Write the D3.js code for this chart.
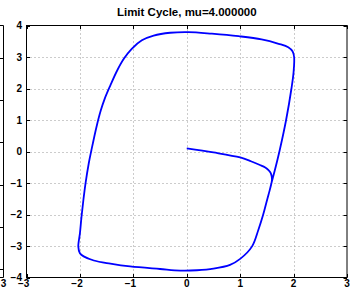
<!DOCTYPE html>
<html>
<head>
<meta charset="utf-8">
<script src="https://cdn.jsdelivr.net/npm/d3@7"></script>
<style>
  body { margin: 0; background: #fff; }
  svg { display: block; }
  text { font-family: "Liberation Sans", Arial, sans-serif; font-weight: bold; fill: #000; }
</style>
</head>
<body>
<svg id="chart"></svg>
<script>
const titleText = "Limit Cycle, mu=4.000000"
const xTicks = [-3, -2, -1, 0, 1, 2, 3]
const yTicks = [-4, -3, -2, -1, 0, 1, 2, 3, 4]
// right edge of the neighbouring subplot, cut off at the left border
const sideTicks = [-3, -2, -1, 0, 1, 2]

// trajectory: start near the origin, join the cycle, one full turn
const trajX = [0, 0.5, 1.0, 1.2, 1.37, 1.47, 1.53, 1.57, 1.59, 1.595,
  1.585, 1.55, 1.51, 1.43, 1.34, 1.22, 1.0, 0.81, 0.5, 0.19, -0.12, -0.5, -1.06, -1.43,
  -1.74, -1.93, -2.0, -2.03, -2.0, -1.97, -1.935, -1.895, -1.835, -1.785, -1.69, -1.61, -1.535, -1.43,
  -1.3, -1.175, -1.03, -0.84, -0.62, -0.31, 0.03, 0.47, 0.97, 1.4, 1.72, 1.9, 1.98, 2.01, 2.0,
  1.96, 1.86, 1.74, 1.65, 1.585, 1.55]
const trajY = [0.1, -0.03, -0.19, -0.31, -0.43, -0.51, -0.59, -0.68, -0.79, -0.9,
  -1.01, -1.25, -1.5, -2.01, -2.49, -3.02, -3.41, -3.6, -3.72, -3.77, -3.78, -3.73, -3.65, -3.56,
  -3.46, -3.33, -3.23, -3.02, -2.6, -2.07, -1.54, -1.01, -0.38, 0.04, 0.78, 1.3, 1.68, 2.1,
  2.58, 2.95, 3.26, 3.53, 3.68, 3.77, 3.79, 3.74, 3.66, 3.56, 3.42, 3.31, 3.18, 3.0, 2.52,
  2.0, 1.0, 0.04, -0.59, -1.01, -1.25]

const width = 350, height = 294

const svg = d3.select("#chart")
  .attr("width", width)
  .attr("height", height)

const x = d3.scaleLinear().domain([-3, 3]).range([26.5, 347])
const y = d3.scaleLinear().domain([-4, 4]).range([277.5, 25.5])
const ySide = d3.scaleLinear().domain([-3.21, 2.78]).range([277.5, 25.5])

const fmt = d => d < 0 ? "\u2212" + Math.abs(d) : String(d)
const tickLen = 3.5

// neighbouring subplot edge
svg.append("path")
  .attr("d", `M0,${y.range()[1]}H3.5V${y.range()[0]}H0`)
  .attr("fill", "none").attr("stroke", "#000")
svg.append("g").selectAll("line").data(sideTicks).join("line")
  .attr("x1", 0).attr("x2", 3.5)
  .attr("y1", d => Math.round(ySide(d)) + 0.5).attr("y2", d => Math.round(ySide(d)) + 0.5)
  .attr("stroke", "#000")
svg.append("text")
  .attr("x", 6.3).attr("y", 286.5)
  .attr("text-anchor", "end")
  .style("font-size", "10px")
  .text("3")

// grid
const grid = svg.append("g")
  .attr("stroke", "#999").attr("stroke-dasharray", "1,3")
grid.selectAll(".gx").data(xTicks.slice(1, -1)).join("line")
  .attr("class", "gx")
  .attr("x1", d => Math.round(x(d)) + 0.5).attr("x2", d => Math.round(x(d)) + 0.5)
  .attr("y1", y(4)).attr("y2", y(-4))
grid.selectAll(".gy").data(yTicks.slice(1, -1)).join("line")
  .attr("class", "gy")
  .attr("y1", d => Math.round(y(d)) + 0.5).attr("y2", d => Math.round(y(d)) + 0.5)
  .attr("x1", x(-3)).attr("x2", x(3))

// trajectory
const line = d3.line()
  .x(d => x(d[0]))
  .y(d => y(d[1]))
  .curve(d3.curveCatmullRom.alpha(0.5))

svg.append("path")
  .datum(d3.zip(trajX, trajY))
  .attr("d", line)
  .attr("fill", "none")
  .attr("stroke", "#0000ff")
  .attr("stroke-width", 1.8)

// box and inward ticks
svg.append("rect")
  .attr("x", x(-3)).attr("y", y(4))
  .attr("width", x(3) - x(-3)).attr("height", y(-4) - y(4))
  .attr("fill", "none").attr("stroke", "#000")

const ticks = svg.append("g").attr("stroke", "#000")
xTicks.forEach(d => {
  const px = Math.round(x(d)) + 0.5
  ticks.append("line").attr("x1", px).attr("x2", px).attr("y1", y(-4)).attr("y2", y(-4) - tickLen)
  ticks.append("line").attr("x1", px).attr("x2", px).attr("y1", y(4)).attr("y2", y(4) + tickLen)
})
yTicks.forEach(d => {
  const py = Math.round(y(d)) + 0.5
  ticks.append("line").attr("y1", py).attr("y2", py).attr("x1", x(-3)).attr("x2", x(-3) + tickLen)
  ticks.append("line").attr("y1", py).attr("y2", py).attr("x1", x(3)).attr("x2", x(3) - tickLen)
})

// tick labels
svg.append("g").selectAll("text").data(xTicks).join("text")
  .attr("x", d => x(d) + 2.8)
  .attr("y", 286.5)
  .attr("text-anchor", "end")
  .style("font-size", "10px")
  .text(fmt)

svg.append("g").selectAll("text").data(yTicks).join("text")
  .attr("x", 22)
  .attr("y", d => y(d) + 3.6)
  .attr("text-anchor", "end")
  .style("font-size", "10px")
  .text(fmt)

// title
svg.append("text")
  .attr("x", (x(-3) + x(3)) / 2)
  .attr("y", 16)
  .attr("text-anchor", "middle")
  .style("font-size", "11.5px")
  .text(titleText)
</script>
</body>
</html>
